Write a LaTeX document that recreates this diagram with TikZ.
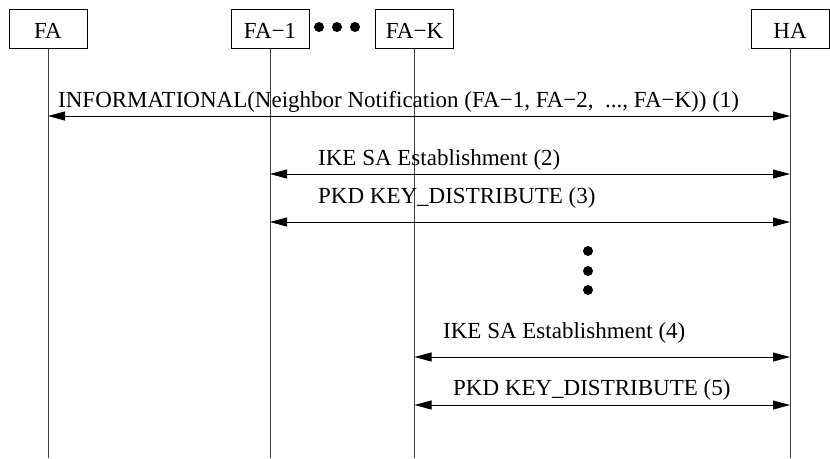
\documentclass[tikz,border=0pt]{standalone}
\usepackage{fontspec}
\setmainfont{Liberation Serif}
\usetikzlibrary{arrows.meta}

\begin{document}
\begin{tikzpicture}[
    x=1pt, y=-1pt,
    every node/.style={font=\fontsize{23}{27}\selectfont},
    ent/.style={draw, line width=0.9pt, minimum width=78pt, minimum height=39pt, inner sep=0pt, text height=18pt, text depth=0pt},
    life/.style={line width=0.9pt, black!75},
    msg/.style={{Triangle[length=17pt,width=9pt]}-{Triangle[length=17pt,width=9pt]}, line width=0.9pt},
    lbl/.style={anchor=base west, inner sep=0pt},
    dot/.style={circle, fill, minimum size=10pt, inner sep=0pt}
    ]
\useasboundingbox (0,0) rectangle (830,458);
\node[ent] (FA) at (48, 29) {FA};
\node[ent] (FA1) at (270, 29) {FA−1};
\node[ent] (FAK) at (414.5, 29) {FA−K};
\node[ent] (HA) at (790, 29) {HA};
\foreach \x [count=\i] in {319,337,355} \node[dot] (h\i) at (\x,27) {};
\foreach \n in {FA,FA1,FAK,HA} \draw[life] (\n.south) -- (\n.south |- 0,458);
% messages
\node[lbl] (l1) at (58,107) {INFORMATIONAL(Neighbor Notification (FA−1, FA−2,\ \ ..., FA−K)) (1)};
\draw[msg] (FA.south |- 0,116) -- (HA.south |- 0,116);
\node[lbl] (l2) at (318,165) {IKE SA Establishment (2)};
\draw[msg] (FA1.south |- 0,174) -- (HA.south |- 0,174);
\node[lbl] (l3) at (318,203) {PKD KEY\_DISTRIBUTE (3)};
\draw[msg] (FA1.south |- 0,222) -- (HA.south |- 0,222);
\foreach \y [count=\i] in {251,271,290} \node[dot] (v\i) at (588,\y) {};
\node[lbl] (l4) at (443,338) {IKE SA Establishment (4)};
\draw[msg] (FAK.south |- 0,357) -- (HA.south |- 0,357);
\node[lbl] (l5) at (453,395) {PKD KEY\_DISTRIBUTE (5)};
\draw[msg] (FAK.south |- 0,405) -- (HA.south |- 0,405);
\end{tikzpicture}
\end{document}
